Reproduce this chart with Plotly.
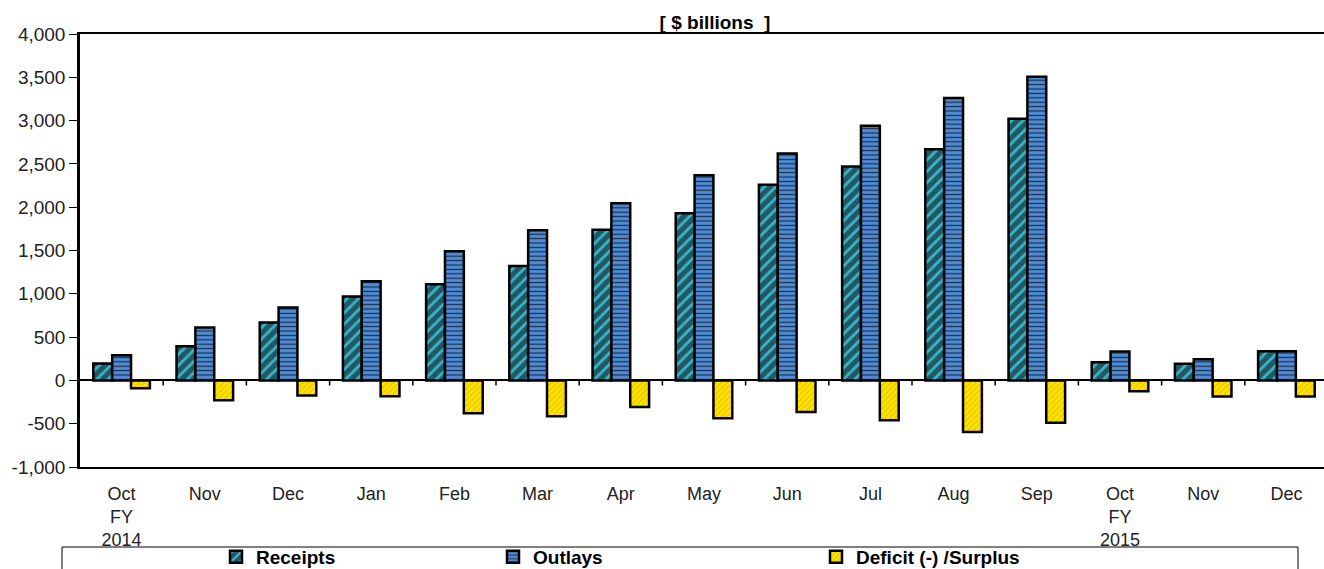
import plotly.graph_objects as go

categories = ["Oct<br>FY<br>2014", "Nov", "Dec", "Jan", "Feb", "Mar", "Apr", "May",
              "Jun", "Jul", "Aug", "Sep", "Oct<br>FY<br>2015", "Nov", "Dec"]
receipts = [196, 393, 670, 968, 1110, 1320, 1740, 1930, 2260, 2470, 2670, 3020, 210, 192, 336]
outlays = [290, 612, 843, 1145, 1490, 1735, 2045, 2370, 2620, 2940, 3260, 3505, 335, 245, 336]
deficit = [-92, -230, -173, -184, -378, -413, -306, -437, -366, -460, -597, -488, -124, -185, -185]
y_ticks = [-1000, -500, 0, 500, 1000, 1500, 2000, 2500, 3000, 3500, 4000]
y_tick_labels = ["-1,000", "-500", "0", "500", "1,000", "1,500", "2,000", "2,500",
                 "3,000", "3,500", "4,000"]

W, H = 1324, 569
ML, MR, MT, MB = 80, 0, 34, 102
pw = W - ML - MR
ph = H - MT - MB
cat_px = 83.2
xmax = -0.5 + pw / cat_px

def px_x(p):
    return (p - ML) / pw

def px_y(p):
    return (H - MB - p) / ph

xs = list(range(len(categories)))
FONT = "Liberation Sans, Arial, sans-serif"

fig = go.Figure()
fig.add_trace(go.Bar(
    x=xs, y=receipts, name="Receipts", legend="legend",
    marker=dict(color="#1E5A66", line=dict(color="black", width=2.5),
                pattern=dict(shape="/", fgcolor="#3FB3C8", bgcolor="#1E5A66",
                             size=8, solidity=0.35, fillmode="replace")),
))
fig.add_trace(go.Bar(
    x=xs, y=outlays, name="Outlays", legend="legend2",
    marker=dict(color="#4F8FD8", line=dict(color="black", width=2.5),
                pattern=dict(shape="-", fgcolor="#1F3050", bgcolor="#4F8FD8",
                             size=4.4, solidity=0.3, fillmode="replace")),
))
fig.add_trace(go.Bar(
    x=xs, y=deficit, name="Deficit (-) /Surplus", legend="legend3",
    marker=dict(color="#FFE600", line=dict(color="black", width=2.5),
                pattern=dict(shape="/", fgcolor="#EBC300", bgcolor="#FFE600",
                             size=4, solidity=0.35, fillmode="replace")),
))

# small tick marks on the zero line at category boundaries
shapes = []
for i in range(len(categories)):
    shapes.append(dict(type="line", xref="x", yref="y", x0=i + 0.5, x1=i + 0.5,
                       y0=0, y1=-60, line=dict(color="black", width=1.5)))
# legend frame
shapes.append(dict(type="rect", xref="paper", yref="paper",
                   x0=px_x(62), x1=px_x(1298), y0=px_y(547), y1=px_y(600),
                   line=dict(color="black", width=1), fillcolor="rgba(0,0,0,0)"))

legend_font = dict(family=FONT, size=19, color="black", weight="bold")
def leg(xp):
    return dict(x=xp / W, y=1 - 538 / H, xref="container", yref="container",
                xanchor="left", yanchor="top",
                orientation="h", font=legend_font, bgcolor="rgba(0,0,0,0)",
                borderwidth=0, itemwidth=30, tracegroupgap=0)

fig.update_layout(
    width=W, height=H,
    margin=dict(l=ML, r=MR, t=MT, b=MB, pad=0, autoexpand=False),
    paper_bgcolor="white", plot_bgcolor="white",
    barmode="group", bargap=0.32, bargroupgap=0,
    title=dict(text="[ $ billions  ]", x=715 / W, xref="container", xanchor="center",
               y=1 - 22 / H, yref="container", yanchor="middle",
               font=dict(family=FONT, size=19, color="black", weight="bold")),
    xaxis=dict(tickmode="array", tickvals=xs, ticktext=categories,
               range=[-0.5, xmax], showgrid=False, zeroline=False,
               showline=True, linecolor="black", linewidth=2, mirror=True,
               ticks="", ticklabelstandoff=9, automargin=False,
               tickfont=dict(family=FONT, size=18, color="#222"),
               fixedrange=True),
    yaxis=dict(range=[-1000, 4000], tickmode="array", tickvals=y_ticks,
               ticktext=y_tick_labels, automargin=False,
               showgrid=False, zeroline=True, zerolinecolor="black", zerolinewidth=1.5,
               showline=True, linecolor="black", linewidth=2.5, mirror=False,
               ticks="outside", ticklen=8, tickcolor="black", tickwidth=1,
               tickfont=dict(family=FONT, size=19, color="#222")),
    shapes=shapes,
    legend=leg(216),
    legend2=leg(493),
    legend3=leg(816),
    showlegend=True,
)

fig.write_html("out.html", config={"displayModeBar": False},
               post_script="document.body.style.margin='0';document.body.style.overflow='hidden';")
